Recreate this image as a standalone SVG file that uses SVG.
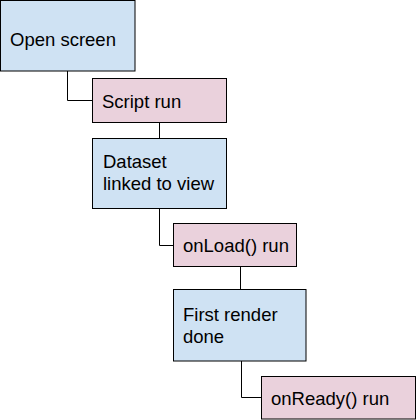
<svg xmlns="http://www.w3.org/2000/svg" width="417" height="420" viewBox="0 0 417 420">
<style>
.blue{fill:#cfe2f3;stroke:#000;stroke-width:1}
.pink{fill:#ead1dc;stroke:#000;stroke-width:1}
.lbl{font-family:"Liberation Sans",Arial,sans-serif;font-size:18.5px;fill:#000}
.conn path{fill:none;stroke:#000;stroke-width:1}
</style>
<rect width="417" height="420" fill="#fff"/>
<g id="connectors" class="conn">
<path d="M67.5 71 V100.5 H92.5"/>
<path d="M159.5 122.5 V138.5"/>
<path d="M159.5 208.5 V245.5 H173.5"/>
<path d="M240.5 266.5 V289.5"/>
<path d="M241.5 361 V397.5 H261.5"/>
</g>
<g id="open-screen">
<rect class="blue" x="0.5" y="0.5" width="134.5" height="70.5"/>
<text class="lbl" x="10" y="46">Open screen</text>
</g>
<g id="script-run">
<rect class="pink" x="92.5" y="78.5" width="134" height="44"/>
<text class="lbl" x="102" y="108">Script run</text>
</g>
<g id="dataset-linked">
<rect class="blue" x="92.5" y="138.5" width="134" height="70"/>
<text class="lbl" x="103" y="168">Dataset</text>
<text class="lbl" x="103" y="190">linked to view</text>
</g>
<g id="onload-run">
<rect class="pink" x="173.5" y="223.5" width="123" height="43"/>
<text class="lbl" x="183" y="252">onLoad() run</text>
</g>
<g id="first-render">
<rect class="blue" x="173.5" y="289.5" width="132.5" height="71.5"/>
<text class="lbl" x="183" y="321">First render</text>
<text class="lbl" x="183" y="343">done</text>
</g>
<g id="onready-run">
<rect class="pink" x="261.5" y="376.5" width="154" height="42.5"/>
<text class="lbl" x="271" y="405">onReady() run</text>
</g>
</svg>
